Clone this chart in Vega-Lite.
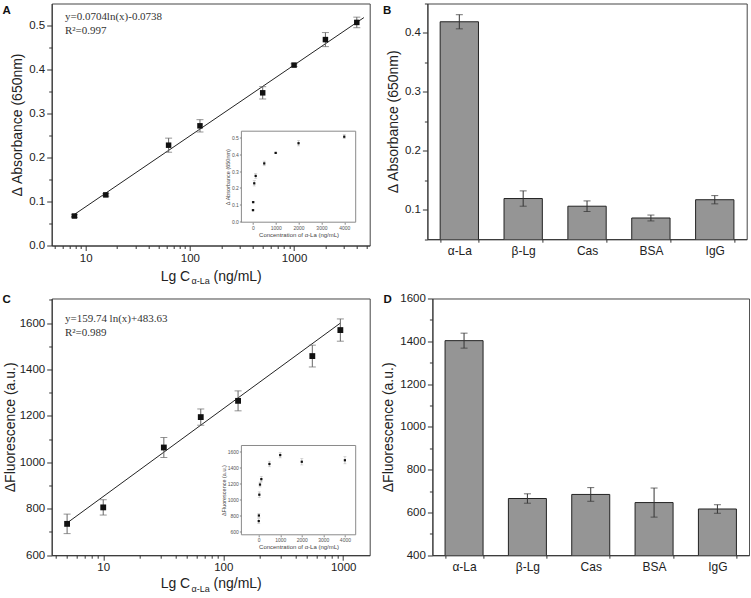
{
  "$schema": "https://vega.github.io/schema/vega-lite/v6.json",
  "padding": {"left": 1.7, "top": 2.5, "right": 0, "bottom": 0},
  "background": "white",
  "datasets": {
    "absA": [
      {"c": 7.8, "v": 0.067, "e": 0.003},
      {"c": 15.6, "v": 0.115, "e": 0.003},
      {"c": 62.5, "v": 0.228, "e": 0.016},
      {"c": 125, "v": 0.272, "e": 0.014},
      {"c": 500, "v": 0.347, "e": 0.014},
      {"c": 1000, "v": 0.41, "e": 0.003},
      {"c": 2000, "v": 0.468, "e": 0.016},
      {"c": 4000, "v": 0.507, "e": 0.012}
    ],
    "fitA": [{"c": 7.3, "v": 0.066}, {"c": 4680, "v": 0.518}],
    "specB": [
      {"p": "α-La", "v": 0.419, "e": 0.012},
      {"p": "β-Lg", "v": 0.119, "e": 0.013},
      {"p": "Cas", "v": 0.106, "e": 0.009},
      {"p": "BSA", "v": 0.086, "e": 0.005},
      {"p": "IgG", "v": 0.117, "e": 0.007}
    ],
    "fluC": [
      {"c": 5, "v": 735, "e": 42},
      {"c": 10, "v": 806, "e": 33},
      {"c": 32, "v": 1064, "e": 43},
      {"c": 65, "v": 1195, "e": 35},
      {"c": 133, "v": 1265, "e": 43},
      {"c": 553, "v": 1458, "e": 47},
      {"c": 947, "v": 1570, "e": 48}
    ],
    "fitC": [{"c": 4.94, "v": 737}, {"c": 947, "v": 1600}],
    "insetC": [
      {"c": 5, "v": 732, "e": 30},
      {"c": 10, "v": 802, "e": 25},
      {"c": 31.25, "v": 1063, "e": 35},
      {"c": 62.5, "v": 1190, "e": 30},
      {"c": 125, "v": 1258, "e": 35},
      {"c": 500, "v": 1448, "e": 35},
      {"c": 1000, "v": 1560, "e": 35},
      {"c": 2000, "v": 1476, "e": 40},
      {"c": 4000, "v": 1495, "e": 45}
    ],
    "specD": [
      {"p": "α-La", "v": 1403, "e": 35},
      {"p": "β-Lg", "v": 665, "e": 22},
      {"p": "Cas", "v": 684, "e": 32},
      {"p": "BSA", "v": 646, "e": 68},
      {"p": "IgG", "v": 616, "e": 20}
    ]
  },
  "config": {
    "view": {"stroke": "#444", "strokeWidth": 1},
    "font": "Liberation Sans",
    "title": {"fontSize": 11.5, "fontWeight": "bold", "anchor": "start", "frame": "group", "offset": 0, "baseline": "middle", "font": "Liberation Sans", "color": "#111"},
    "axis": {
      "labelFont": "Liberation Sans", "titleFont": "Liberation Sans",
      "labelFontSize": 11.5, "titleFontSize": 14, "titleFontWeight": "normal",
      "labelColor": "#222", "titleColor": "#222",
      "domainColor": "#333", "tickColor": "#333",
      "grid": false, "tickSize": 5, "labelPadding": 2, "titlePadding": 4
    }
  },
  "bounds": "full",
  "spacing": 5,
  "vconcat": [
    {
      "bounds": "flush",
      "spacing": 57.7,
      "hconcat": [
        {
          "width": 318, "height": 242,
          "title": {"text": "A", "dx": -49.3, "dy": 17},
          "resolve": {"scale": {"x": "independent", "y": "independent"}},
          "layer": [
            {
              "layer": [
                {
                  "encoding": {
                    "x": {"field": "c", "type": "quantitative", "scale": {"type": "log", "domain": [4.72, 5320], "nice": false},
                      "axis": {"orient": "bottom", "values": [10, 100, 1000], "format": "d", "title": "Lg C\u00a0\u00a0\u00a0\u00a0\u00a0\u00a0(ng/mL)", "titlePadding": 5}},
                    "y": {"field": "v", "type": "quantitative", "scale": {"domain": [0, 0.55], "nice": false, "zero": false},
                      "axis": {"orient": "left", "values": [0, 0.1, 0.2, 0.3, 0.4, 0.5], "format": ".1f", "title": "Δ Absorbance (650nm)"}}
                  },
                  "layer": [
                    {"data": {"name": "fitA"}, "mark": {"type": "line", "color": "#222", "strokeWidth": 1}},
                    {"data": {"name": "absA"}, "mark": {"type": "errorbar", "ticks": {"size": 7}, "color": "#666"}, "encoding": {"yError": {"field": "e"}}},
                    {"data": {"name": "absA"}, "mark": {"type": "point", "shape": "square", "filled": true, "size": 30, "color": "#111", "opacity": 1}}
                  ]
                },
                {
                  "data": {"values": [{"k": 1}]},
                  "mark": {"type": "text", "text": ["y=0.0704ln(x)-0.0738", "R²=0.997"], "font": "Liberation Serif", "fontSize": 11, "align": "left", "baseline": "alphabetic", "lineHeight": 14.5, "color": "#333"},
                  "encoding": {
                    "x": {"datum": 6.33, "type": "quantitative"},
                    "y": {"datum": 0.5136, "type": "quantitative"}
                  }
                }
              ]
            },
            {
              "data": {"values": [{"k": 1}]},
              "mark": {"type": "point", "opacity": 0},
              "encoding": {
                "x": {"datum": 10, "type": "quantitative", "scale": {"type": "log", "domain": [4.72, 5320], "nice": false},
                  "axis": {"orient": "bottom", "values": [5, 6, 7, 8, 9, 20, 30, 40, 50, 60, 70, 80, 90, 200, 300, 400, 500, 600, 700, 800, 900, 2000, 3000, 4000, 5000], "labels": false, "domain": false, "tickSize": 3,
                    "title": "α-La", "titleFontSize": 9, "titleX": 148.5, "titleY": 38, "titleBaseline": "alphabetic", "titleAlign": "center"}},
                "y": {"datum": 0.1, "type": "quantitative", "scale": {"domain": [0, 0.55], "nice": false, "zero": false},
                  "axis": {"orient": "left", "values": [0.05, 0.15, 0.25, 0.35, 0.45], "labels": false, "domain": false, "tickSize": 3, "title": null}}
              }
            },
            {
              "layer": [
                {
                  "encoding": {
                    "x": {"field": "c", "type": "quantitative", "scale": {"domain": [-500, 4500], "range": [189.7, 304], "nice": false, "zero": false},
                      "axis": {"orient": "bottom", "offset": -23.3, "values": [0, 1000, 2000, 3000, 4000], "format": "d", "labelFontSize": 5, "labelPadding": 1, "tickSize": 2, "domain": false, "labelColor": "#555", "tickColor": "#888",
                        "title": "Concentration of α-La (ng/mL)", "titleFontSize": 6, "titlePadding": 1, "titleColor": "#444"}},
                    "y": {"field": "v", "type": "quantitative", "scale": {"domain": [-0.005, 0.54], "range": [218.7, 127.7], "nice": false, "zero": false},
                      "axis": {"orient": "left", "offset": -189.7, "values": [0, 0.1, 0.2, 0.3, 0.4, 0.5], "format": ".1f", "labelFontSize": 5, "labelPadding": 1, "tickSize": 2, "domain": false, "labelColor": "#555", "tickColor": "#888",
                        "title": "Δ Absorbance (650nm)", "titleFontSize": 5.5, "titlePadding": 1, "titleColor": "#444"}}
                  },
                  "layer": [
                    {"data": {"name": "absA"}, "mark": {"type": "errorbar", "ticks": {"size": 3}, "color": "#aaa", "thickness": 0.6}, "encoding": {"yError": {"field": "e"}}},
                    {"data": {"name": "absA"}, "mark": {"type": "point", "shape": "square", "filled": true, "size": 5, "color": "#111", "opacity": 1}}
                  ]
                },
                {
                  "data": {"values": [{"k": 1}]},
                  "mark": {"type": "rect", "fill": "white", "fillOpacity": 0, "stroke": "#8a8a8a", "strokeWidth": 1},
                  "encoding": {
                    "x": {"datum": -500, "type": "quantitative"},
                    "x2": {"datum": 4500},
                    "y": {"datum": -0.005, "type": "quantitative"},
                    "y2": {"datum": 0.54}
                  }
                }
              ]
            }
          ]
        },
        {
          "width": 319.3, "height": 235.7,
          "title": {"text": "B", "dx": -44.4, "dy": 17},
          "resolve": {"scale": {"y": "independent"}},
          "layer": [
            {
              "encoding": {
                "x": {"field": "p", "type": "nominal", "sort": null, "scale": {"paddingInner": 0.4, "paddingOuter": 0.2},
                  "axis": {"title": null, "labelAngle": 0, "tickBand": "extent", "tickSize": 3, "labelPadding": 3, "labelFontSize": 12}},
                "y": {"field": "v", "type": "quantitative", "scale": {"domain": [0.05, 0.45], "nice": false, "zero": false},
                  "axis": {"values": [0.1, 0.2, 0.3, 0.4], "format": ".1f", "title": "Δ Absorbance (650nm)"}}
              },
              "layer": [
                {"data": {"name": "specB"}, "mark": {"type": "bar", "color": "#959595", "stroke": "#222", "strokeWidth": 1, "clip": true}},
                {"data": {"name": "specB"}, "mark": {"type": "errorbar", "ticks": {"size": 7}, "color": "#333"}, "encoding": {"yError": {"field": "e"}}}
              ]
            },
            {
              "data": {"values": [{"k": 1}]},
              "mark": {"type": "point", "opacity": 0},
              "encoding": {
                "y": {"datum": 0.1, "type": "quantitative", "scale": {"domain": [0.05, 0.45], "nice": false, "zero": false},
                  "axis": {"orient": "left", "values": [0.05, 0.15, 0.25, 0.35, 0.45], "labels": false, "domain": false, "tickSize": 3, "title": null}}
              }
            }
          ]
        }
      ]
    },
    {
      "bounds": "flush",
      "spacing": 62.7,
      "hconcat": [
        {
          "width": 318, "height": 256.7,
          "title": {"text": "C", "dx": -49.3, "dy": 11.2},
          "resolve": {"scale": {"x": "independent", "y": "independent"}},
          "layer": [
            {
              "layer": [
                {
                  "encoding": {
                    "x": {"field": "c", "type": "quantitative", "scale": {"type": "log", "domain": [3.72, 1663], "nice": false},
                      "axis": {"orient": "bottom", "values": [10, 100, 1000], "format": "d", "title": "Lg C\u00a0\u00a0\u00a0\u00a0\u00a0\u00a0(ng/mL)", "titlePadding": 4, "labelPadding": 1}},
                    "y": {"field": "v", "type": "quantitative", "scale": {"domain": [600, 1706], "nice": false, "zero": false},
                      "axis": {"orient": "left", "values": [600, 800, 1000, 1200, 1400, 1600], "format": "d", "title": "ΔFluorescence (a.u.)", "titlePadding": 2}}
                  },
                  "layer": [
                    {"data": {"name": "fitC"}, "mark": {"type": "line", "color": "#222", "strokeWidth": 1}},
                    {"data": {"name": "fluC"}, "mark": {"type": "errorbar", "ticks": {"size": 7}, "color": "#666"}, "encoding": {"yError": {"field": "e"}}},
                    {"data": {"name": "fluC"}, "mark": {"type": "point", "shape": "square", "filled": true, "size": 34, "color": "#111", "opacity": 1}}
                  ]
                },
                {
                  "data": {"values": [{"k": 1}]},
                  "mark": {"type": "text", "text": ["y=159.74 ln(x)+483.63", "R²=0.989"], "font": "Liberation Serif", "fontSize": 11, "align": "left", "baseline": "alphabetic", "lineHeight": 14.5, "color": "#333"},
                  "encoding": {
                    "x": {"datum": 4.8, "type": "quantitative"},
                    "y": {"datum": 1605.6, "type": "quantitative"}
                  }
                }
              ]
            },
            {
              "data": {"values": [{"k": 1}]},
              "mark": {"type": "point", "opacity": 0},
              "encoding": {
                "x": {"datum": 10, "type": "quantitative", "scale": {"type": "log", "domain": [3.72, 1663], "nice": false},
                  "axis": {"orient": "bottom", "values": [4, 5, 6, 7, 8, 9, 20, 30, 40, 50, 60, 70, 80, 90, 200, 300, 400, 500, 600, 700, 800, 900], "labels": false, "domain": false, "tickSize": 3,
                    "title": "α-La", "titleFontSize": 9, "titleX": 148.5, "titleY": 36, "titleBaseline": "alphabetic", "titleAlign": "center"}},
                "y": {"datum": 700, "type": "quantitative", "scale": {"domain": [600, 1706], "nice": false, "zero": false},
                  "axis": {"orient": "left", "values": [700, 900, 1100, 1300, 1500, 1700], "labels": false, "domain": false, "tickSize": 3, "title": null}}
              }
            },
            {
              "layer": [
                {
                  "encoding": {
                    "x": {"field": "c", "type": "quantitative", "scale": {"domain": [-800, 4500], "range": [189.7, 304], "nice": false, "zero": false},
                      "axis": {"orient": "bottom", "offset": -20.4, "values": [0, 1000, 2000, 3000, 4000], "format": "d", "labelFontSize": 5, "labelPadding": 1, "tickSize": 2, "domain": false, "labelColor": "#555", "tickColor": "#888",
                        "title": "Concentration of α-La (ng/mL)", "titleFontSize": 6, "titlePadding": 1, "titleColor": "#444"}},
                    "y": {"field": "v", "type": "quantitative", "scale": {"domain": [560, 1680], "range": [236.3, 147], "nice": false, "zero": false},
                      "axis": {"orient": "left", "offset": -189.7, "values": [600, 800, 1000, 1200, 1400, 1600], "format": "d", "labelFontSize": 5, "labelPadding": 1, "tickSize": 2, "domain": false, "labelColor": "#555", "tickColor": "#888",
                        "title": "ΔFluorescence (a.u.)", "titleFontSize": 5.5, "titlePadding": 1, "titleColor": "#444"}}
                  },
                  "layer": [
                    {"data": {"name": "insetC"}, "mark": {"type": "errorbar", "ticks": {"size": 3}, "color": "#aaa", "thickness": 0.6}, "encoding": {"yError": {"field": "e"}}},
                    {"data": {"name": "insetC"}, "mark": {"type": "point", "shape": "square", "filled": true, "size": 5, "color": "#111", "opacity": 1}}
                  ]
                },
                {
                  "data": {"values": [{"k": 1}]},
                  "mark": {"type": "rect", "fill": "white", "fillOpacity": 0, "stroke": "#8a8a8a", "strokeWidth": 1},
                  "encoding": {
                    "x": {"datum": -800, "type": "quantitative"},
                    "x2": {"datum": 4500},
                    "y": {"datum": 560, "type": "quantitative"},
                    "y2": {"datum": 1680}
                  }
                }
              ]
            }
          ]
        },
        {
          "width": 316.7, "height": 256.7,
          "title": {"text": "D", "dx": -49, "dy": 17.5},
          "resolve": {"scale": {"y": "independent"}},
          "layer": [
            {
              "encoding": {
                "x": {"field": "p", "type": "nominal", "sort": null, "scale": {"paddingInner": 0.4, "paddingOuter": 0.2},
                  "axis": {"title": null, "labelAngle": 0, "tickBand": "extent", "tickSize": 3, "labelPadding": 3, "labelFontSize": 12}},
                "y": {"field": "v", "type": "quantitative", "scale": {"domain": [400, 1600], "nice": false, "zero": false},
                  "axis": {"values": [400, 600, 800, 1000, 1200, 1400, 1600], "format": "d", "title": "ΔFluorescence (a.u.)"}}
              },
              "layer": [
                {"data": {"name": "specD"}, "mark": {"type": "bar", "color": "#959595", "stroke": "#222", "strokeWidth": 1, "clip": true}},
                {"data": {"name": "specD"}, "mark": {"type": "errorbar", "ticks": {"size": 7}, "color": "#333"}, "encoding": {"yError": {"field": "e"}}}
              ]
            },
            {
              "data": {"values": [{"k": 1}]},
              "mark": {"type": "point", "opacity": 0},
              "encoding": {
                "y": {"datum": 500, "type": "quantitative", "scale": {"domain": [400, 1600], "nice": false, "zero": false},
                  "axis": {"orient": "left", "values": [500, 700, 900, 1100, 1300, 1500], "labels": false, "domain": false, "tickSize": 3, "title": null}}
              }
            }
          ]
        }
      ]
    }
  ]
}
